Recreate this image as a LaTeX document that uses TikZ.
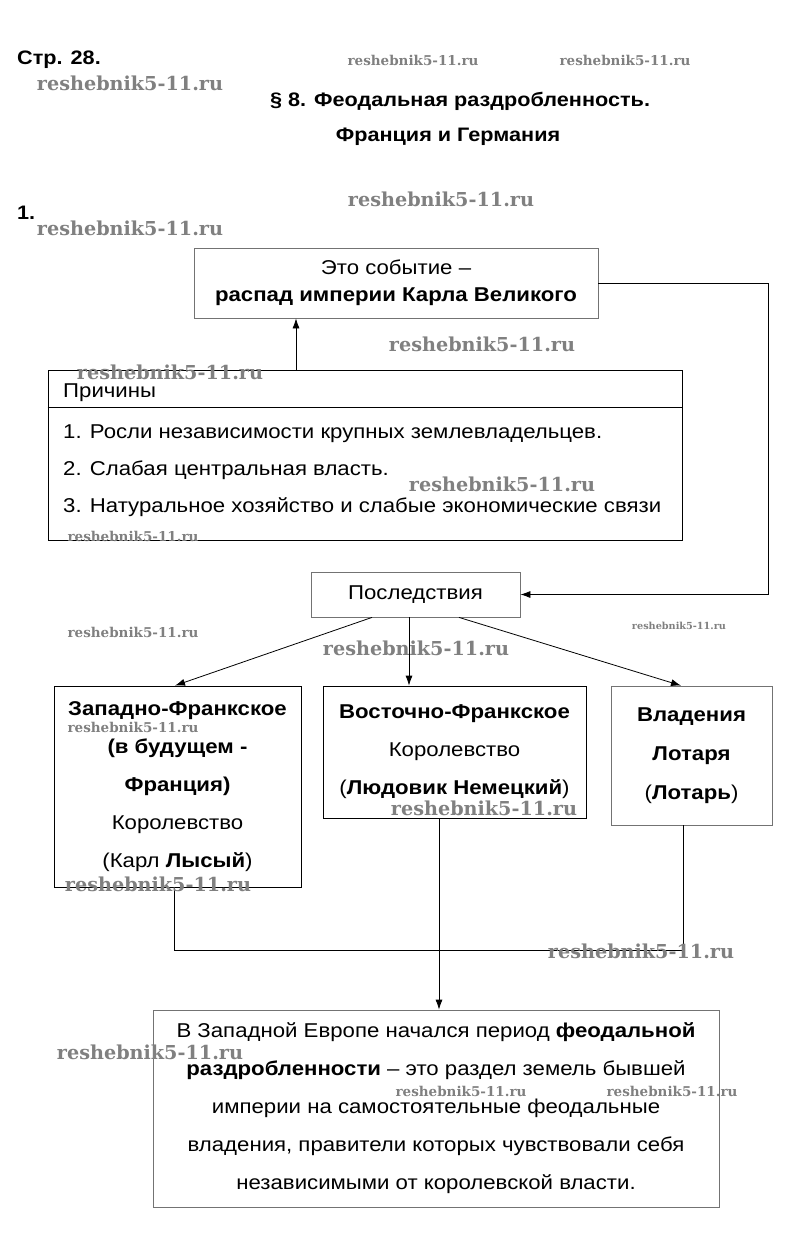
\documentclass[tikz,border=0pt]{standalone}
\usepackage{fontspec}
\setmainfont{Liberation Sans}[FakeStretch=1.11]
\newfontfamily\wmfont{DejaVu Serif}
\usetikzlibrary{arrows.meta}
\begin{document}
\begin{tikzpicture}[x=1pt,y=-1pt,
  box/.style={draw=black, line width=0.8pt, inner sep=0pt, align=center, font=\fontsize{20}{38}\selectfont},
  gbox/.style={box, draw=black!55},
  conn/.style={line width=0.8pt},
  arr/.style={conn,-{Latex[length=10pt,width=7pt]}},
  txt/.style={inner sep=0pt, font=\fontsize{20}{24}\selectfont},
  head/.style={inner sep=0pt, font=\bfseries\fontsize{19.5}{24}\selectfont},
  wm/.style={inner sep=0pt, text=black!50, font=\wmfont\bfseries\fontsize{19.2}{19.2}\selectfont},
  wms/.style={wm, font=\wmfont\bfseries\fontsize{13.5}{13.5}\selectfont},
  wmt/.style={wm, font=\wmfont\bfseries\fontsize{9.7}{9.7}\selectfont}
]
\useasboundingbox[fill=white] (0,0) rectangle (794,1260);

% headings
\node[head, anchor=west] (pg) at (17,60) {Стр. 28.};
\node[head] (t1) at (460,101) {§ 8. Феодальная раздробленность.};
\node[head] (t2) at (448,137) {Франция и Германия};
\node[head, anchor=west] (n1) at (17,213) {1.};

% boxes
\node[gbox, minimum width=404pt, minimum height=70pt, font=\fontsize{20}{27}\selectfont] (box1) at (396,283)
  {Это событие –\\\textbf{распад империи Карла Великого}};
\node[box, minimum width=634pt, minimum height=170pt] (prich) at (365,455) {};
\draw[conn] ([yshift=-38pt]prich.north west) -- ([yshift=-38pt]prich.north east);
\node[txt, anchor=base west] (p0) at (63,397) {Причины};
\node[txt, anchor=base west] (p1) at (63,438) {1. Росли независимости крупных землевладельцев.};
\node[txt, anchor=base west] (p2) at (63,475) {2. Слабая центральная власть.};
\node[txt, anchor=base west] (p3) at (63,512) {3. Натуральное хозяйство и слабые экономические связи};

\node[gbox, minimum width=209pt, minimum height=45pt] (posl) at (415.5,594.5) {Последствия};

\node[box, minimum width=247pt, minimum height=201pt] (west) at (177.5,786.5)
  {\textbf{Западно-Франкское}\\\textbf{(в будущем -}\\\textbf{Франция)}\\Королевство\\(Карл \textbf{Лысый})};
\node[box, minimum width=263pt, minimum height=132pt] (east) at (454.5,752)
  {\textbf{Восточно-Франкское}\\Королевство\\(\textbf{Людовик Немецкий})};
\node[gbox, minimum width=161pt, minimum height=139pt, font=\fontsize{20}{39}\selectfont] (loth) at (691.5,755.5)
  {\textbf{Владения}\\\textbf{Лотаря}\\(\textbf{Лотарь})};
\node[gbox, minimum width=566pt, minimum height=197pt] (fin) at (436,1108.5)
  {В Западной Европе начался период \textbf{феодальной}\\
   \textbf{раздробленности} – это раздел земель бывшей\\
   империи на самостоятельные феодальные\\
   владения, правители которых чувствовали себя\\
   независимыми от королевской власти.};

% connectors
\draw[arr] ([xshift=-69pt]prich.north) -- ([xshift=-69pt]prich.north |- box1.south);
\draw[arr] (box1.east) -- ++(170,0) |- (posl.east);
\draw[arr] ([xshift=-43.5pt]posl.south) -- ([xshift=-2.5pt]west.north);
\draw[arr] ([xshift=-6.5pt]posl.south) -- ([xshift=-6.5pt]posl.south |- east.north);
\draw[arr] ([xshift=43.5pt]posl.south) -- ([xshift=-10.5pt]loth.north);
\draw[conn] ([xshift=-3.5pt]west.south) -- ++(0,63) -| ([xshift=-8.5pt]loth.south);
\draw[arr] ([xshift=-15.5pt]east.south) -- ([xshift=-15.5pt]east.south |- fin.north);

% watermarks
\node[wm] (w1) at (130,83) {reshebnik5-11.ru};
\node[wm] (w2) at (441,199) {reshebnik5-11.ru};
\node[wm] (w3) at (130,228) {reshebnik5-11.ru};
\node[wm] (w4) at (482,344) {reshebnik5-11.ru};
\node[wm] (w5) at (170,372) {reshebnik5-11.ru};
\node[wm] (w6) at (502,484) {reshebnik5-11.ru};
\node[wm] (w7) at (416,648) {reshebnik5-11.ru};
\node[wm] (w8) at (484,808) {reshebnik5-11.ru};
\node[wm] (w9) at (158,884) {reshebnik5-11.ru};
\node[wm] (w10) at (641,951) {reshebnik5-11.ru};
\node[wm] (w11) at (150,1052) {reshebnik5-11.ru};
\node[wms] (s1) at (413,60) {reshebnik5-11.ru};
\node[wms] (s2) at (625,60) {reshebnik5-11.ru};
\node[wms] (s3) at (133,536) {reshebnik5-11.ru};
\node[wms] (s4) at (133,632) {reshebnik5-11.ru};
\node[wms] (s5) at (133,727) {reshebnik5-11.ru};
\node[wms] (s6) at (461,1091) {reshebnik5-11.ru};
\node[wms] (s7) at (672,1091) {reshebnik5-11.ru};
\node[wmt] (s8) at (679,626) {reshebnik5-11.ru};
\end{tikzpicture}
\end{document}
